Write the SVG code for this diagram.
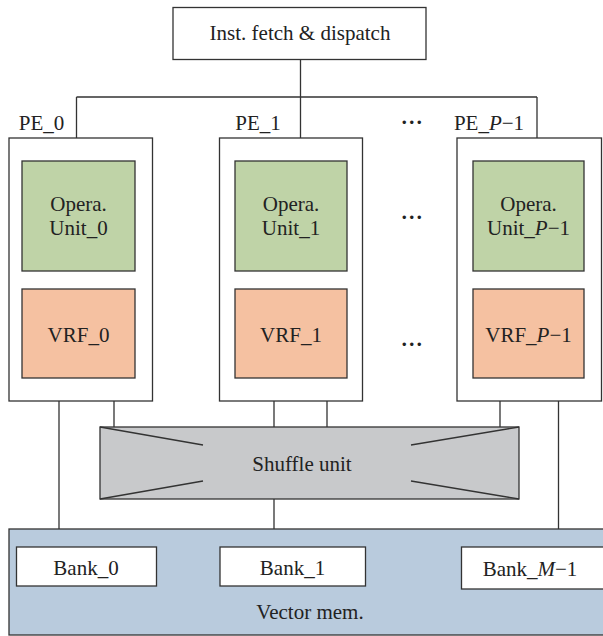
<svg xmlns="http://www.w3.org/2000/svg" width="603" height="636" viewBox="0 0 603 636">
<style>
text{font-family:"Liberation Serif","Times New Roman",serif;font-size:21px;fill:#222;text-anchor:middle}
.i{font-style:italic}
.dots{font-weight:bold;letter-spacing:0.5px}
.box{fill:#fff;stroke:#333;stroke-width:1.3}
.op{fill:#bfd3a7;stroke:#333;stroke-width:1.3}
.vrf{fill:#f5c1a1;stroke:#333;stroke-width:1.3}
.sh{fill:#c8c9cb;stroke:#333;stroke-width:1.3}
.mem{fill:#b9cbdd;stroke:#333;stroke-width:1.3}
.ln{fill:none;stroke:#333;stroke-width:1.3}
</style>
<g id="connectors">
<path class="ln" d="M300.5 59V97M76.5 97H537M76.5 97V138M300.5 97V138M537 97V138"/>
<path class="ln" d="M59 378V529M114 378V427M274 378V427M327 378V427M500 378V427M558.5 378V529M274 499V529"/>
</g>
<g id="inst">
<rect class="box" x="173" y="7.5" width="253" height="52"/>
<text x="300" y="40">Inst. fetch &amp; dispatch</text>
</g>
<g id="pe0">
<rect class="box" x="9" y="138" width="143.5" height="263"/>
<text x="41.5" y="130">PE_0</text>
<g id="op0"><rect class="op" x="22" y="161" width="113" height="110"/><text x="78.5" y="211">Opera.</text><text x="78.5" y="235">Unit_0</text></g>
<g id="vrf0"><rect class="vrf" x="22" y="289" width="113" height="89"/><text x="78.5" y="342">VRF_0</text></g>
</g>
<g id="pe1">
<rect class="box" x="219.5" y="138" width="143" height="263"/>
<text x="258" y="130">PE_1</text>
<g id="op1"><rect class="op" x="235" y="161" width="112" height="110"/><text x="291" y="211">Opera.</text><text x="291" y="235">Unit_1</text></g>
<g id="vrf1"><rect class="vrf" x="235" y="289" width="112" height="89"/><text x="291" y="342">VRF_1</text></g>
</g>
<g id="peP">
<rect class="box" x="457" y="138" width="144.5" height="263"/>
<text x="489" y="130">PE_<tspan class="i">P</tspan>−1</text>
<g id="opP"><rect class="op" x="473" y="161" width="111" height="110"/><text x="528.5" y="211">Opera.</text><text x="528.5" y="235">Unit_<tspan class="i">P</tspan>−1</text></g>
<g id="vrfP"><rect class="vrf" x="473" y="289" width="111" height="89"/><text x="528.5" y="342">VRF_<tspan class="i">P</tspan>−1</text></g>
</g>
<g id="ellipses">
<text class="dots" x="412" y="129">···</text>
<text class="dots" x="412" y="224">···</text>
<text class="dots" x="412" y="351">···</text>
</g>
<g id="shuffle">
<rect class="sh" x="100" y="427" width="419" height="72"/>
<path class="ln" d="M100 427L203 445M100 499L203 481M519 427L411 445M519 499L411 481"/>
<text x="302" y="471">Shuffle unit</text>
</g>
<g id="vmem">
<rect class="mem" x="9" y="529" width="600" height="106"/>
<text x="310" y="619">Vector mem.</text>
<g id="bank0"><rect class="box" x="16.5" y="547" width="140" height="39"/><text x="86" y="575">Bank_0</text></g>
<g id="bank1"><rect class="box" x="220" y="547" width="145.5" height="39"/><text x="292.5" y="575">Bank_1</text></g>
<g id="bankM"><rect class="box" x="461.5" y="547" width="146" height="42"/><text x="530" y="576">Bank_<tspan class="i">M</tspan>−1</text></g>
</g>
</svg>
